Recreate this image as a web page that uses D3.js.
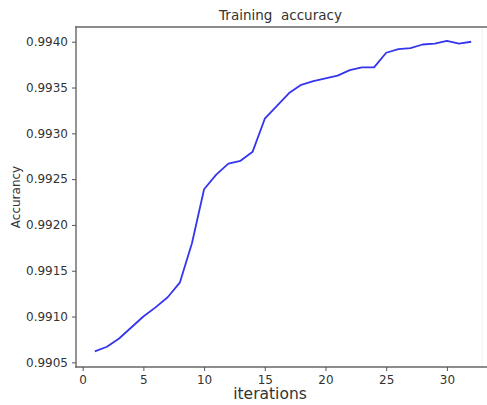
<!DOCTYPE html>
<html>
<head>
<meta charset="utf-8">
<script src="https://cdn.jsdelivr.net/npm/d3@7"></script>
<style>
  html, body { margin: 0; padding: 0; background: #fff; overflow: hidden; }
  svg { display: block; }
  text { font-family: "DejaVu Sans", sans-serif; fill: #333; }
</style>
</head>
<body>
<svg id="chart" width="487" height="405"></svg>
<script>
// Training accuracy per iteration
const iterations = d3.range(1, 33);
const accuracy = [
  0.99062, 0.99067, 0.99076, 0.99088, 0.99100, 0.99110, 0.99121, 0.99137,
  0.99180, 0.99239, 0.99255, 0.99267, 0.99270, 0.99280, 0.99316, 0.99330,
  0.99344, 0.99353, 0.99357, 0.99360, 0.99363, 0.99369, 0.99372, 0.99372,
  0.99388, 0.99392, 0.99393, 0.99397, 0.99398, 0.99401, 0.99398, 0.99400
];
const xTicks = [0, 5, 10, 15, 20, 25, 30];
const yTicks = [0.9905, 0.9910, 0.9915, 0.9920, 0.9925, 0.9930, 0.9935, 0.9940];

const svg = d3.select("#chart");
const frame = { left: 76, right: 490, top: 27, bottom: 367 };

const x = d3.scaleLinear().domain([-0.55, 33.55]).range([frame.left, frame.right]);
const y = d3.scaleLinear().domain([0.990449, 0.994161]).range([frame.bottom, frame.top]);

// faint edge line near the right border
svg.append("line")
  .attr("x1", 482).attr("x2", 482)
  .attr("y1", frame.top).attr("y2", frame.bottom)
  .attr("stroke", "#f0f0f0").attr("stroke-width", 1);

// spines: left, top and bottom (right spine falls past the canvas edge)
const spines = [
  [frame.left, frame.top, frame.left, frame.bottom],
  [frame.left, frame.top, frame.right, frame.top],
  [frame.left, frame.bottom, frame.right, frame.bottom]
];
svg.selectAll("line.spine")
  .data(spines)
  .join("line")
  .attr("class", "spine")
  .attr("x1", d => d[0]).attr("y1", d => d[1])
  .attr("x2", d => d[2]).attr("y2", d => d[3])
  .attr("stroke", "#666").attr("stroke-width", 1.4)
  .attr("stroke-linecap", "square");

const xAxis = svg.append("g")
  .attr("transform", `translate(0,${frame.bottom})`)
  .call(d3.axisBottom(x).tickValues(xTicks).tickFormat(d3.format("d")).tickSize(4).tickPadding(4));
const yAxis = svg.append("g")
  .attr("transform", `translate(${frame.left},0)`)
  .call(d3.axisLeft(y).tickValues(yTicks).tickFormat(d3.format(".4f")).tickSize(4).tickPadding(4));

[xAxis, yAxis].forEach(g => {
  g.select(".domain").remove();
  g.selectAll(".tick line").attr("stroke", "#555").attr("stroke-width", 1);
  g.selectAll(".tick text")
    .attr("fill", "#333")
    .style("font-family", "'DejaVu Sans', sans-serif")
    .style("font-size", "12px");
});

// accuracy curve
const line = d3.line()
  .x((d, i) => x(iterations[i]))
  .y(d => y(d));

svg.append("path")
  .datum(accuracy)
  .attr("d", line)
  .attr("fill", "none")
  .attr("stroke", "#3535ee")
  .attr("stroke-width", 1.8)
  .attr("stroke-linejoin", "round");

// title and axis labels
svg.append("text")
  .attr("x", 280.5).attr("y", 20)
  .attr("text-anchor", "middle")
  .style("font-size", "13.5px")
  .style("white-space", "pre")
  .text("Training  accuracy");

svg.append("text")
  .attr("x", 270).attr("y", 399)
  .attr("text-anchor", "middle")
  .style("font-size", "15.5px")
  .text("iterations");

svg.append("text")
  .attr("transform", "translate(20,197) rotate(-90)")
  .attr("text-anchor", "middle")
  .style("font-size", "12px")
  .text("Accurancy");
</script>
</body>
</html>
